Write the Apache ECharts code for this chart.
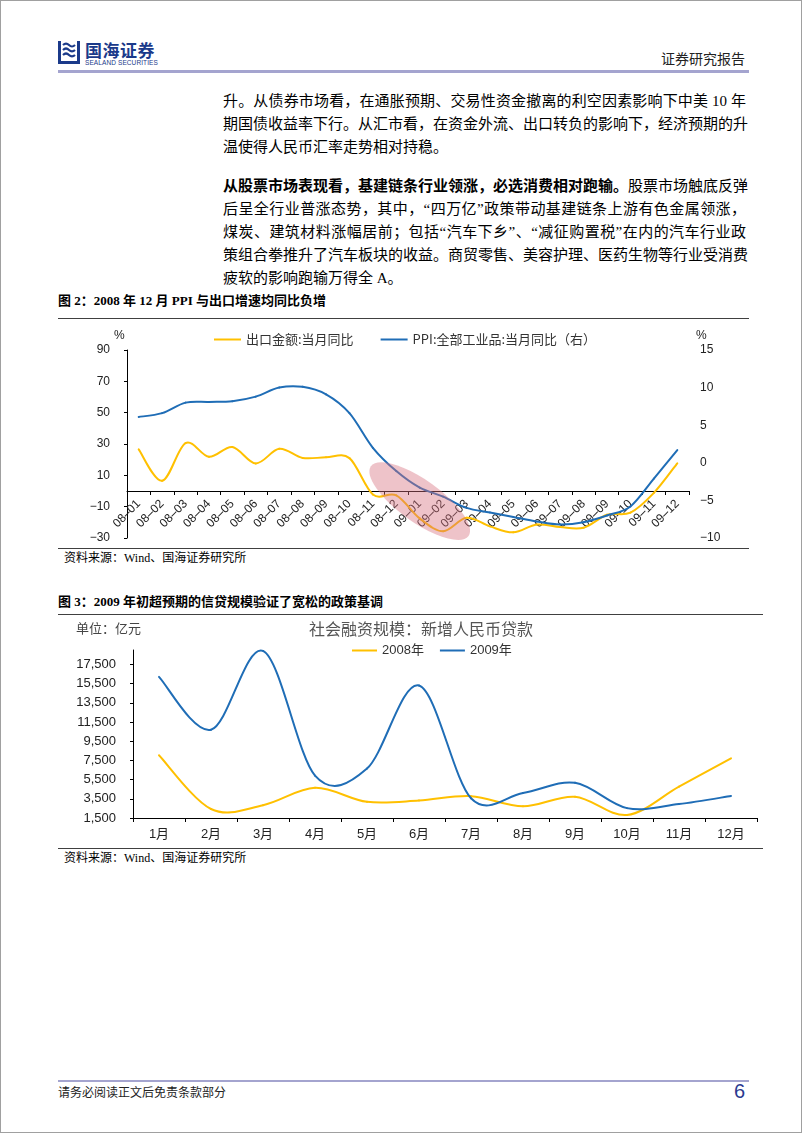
<!DOCTYPE html>
<html>
<head>
<meta charset="utf-8">
<script src="https://cdn.jsdelivr.net/npm/echarts@6/dist/echarts.min.js"></script>
<style>
  html, body { margin:0; padding:0; background:#fff; }
  #page { position:relative; width:802px; height:1133px; box-sizing:border-box; border:1px solid #a0a0a0; overflow:hidden; background:#fff;
          font-family:'Liberation Serif','Noto Sans CJK SC',serif; color:#000; }
  .abs { position:absolute; }
  .hline { position:absolute; height:0; border-top:1px solid #404040; }
  .line { position:absolute; left:222px; width:523px; height:23px; line-height:23px; font-size:15px; white-space:nowrap; }
  .just { text-align:justify; text-align-last:justify; }
  .ttl { position:absolute; left:57px; font-size:13px; font-weight:bold; line-height:16px; white-space:nowrap; }
  .src { position:absolute; left:63px; font-size:12px; line-height:14px; color:#000; white-space:nowrap; }
</style>
</head>
<body>
<div id="page">
  <!-- header -->
  <svg class="abs" style="left:57px;top:40px" width="22" height="23" viewBox="0 0 22 23">
    <rect x="0" y="0" width="3" height="23" fill="#1B3A8A"/>
    <rect x="19" y="0" width="3" height="23" fill="#1B3A8A"/>
    <rect x="0" y="20" width="22" height="3" fill="#1B3A8A"/>
    <path d="M5 4 Q8 1 11 4 T17 4" stroke="#1B3A8A" stroke-width="2.2" fill="none"/>
    <path d="M5 9 Q8 6 11 9 T17 9" stroke="#1B3A8A" stroke-width="2.2" fill="none"/>
    <path d="M5 14 Q8 11 11 14 T17 14" stroke="#1B3A8A" stroke-width="2.2" fill="none"/>
  </svg>
  <div class="abs" style="left:84px;top:40px;font-family:'Noto Sans CJK SC';font-weight:bold;font-size:17px;line-height:18px;color:#1B3A8A;letter-spacing:0.5px;">国海证券</div>
  <div class="abs" style="left:84px;top:58px;font-family:'Liberation Sans';font-size:6.5px;line-height:7px;color:#1B3A8A;letter-spacing:0.1px;">SEALAND SECURITIES</div>
  <div class="abs" style="right:56px;top:49px;font-family:'Noto Sans CJK SC';font-size:14px;line-height:16px;color:#222;">证券研究报告</div>
  <div class="abs" style="left:57px;top:69px;width:691px;height:3px;background:#A4A4CF;"></div>

  <!-- body text -->
  <div class="line just" style="top:89px">升。从债券市场看，在通胀预期、交易性资金撤离的利空因素影响下中美 10 年</div>
  <div class="line just" style="top:112px">期国债收益率下行。从汇市看，在资金外流、出口转负的影响下，经济预期的升</div>
  <div class="line" style="top:135px">温使得人民币汇率走势相对持稳。</div>
  <div class="line just" style="top:174px"><b>从股票市场表现看，基建链条行业领涨，必选消费相对跑输。</b>股票市场触底反弹</div>
  <div class="line just" style="top:197px">后呈全行业普涨态势，其中，“四万亿”政策带动基建链条上游有色金属领涨，</div>
  <div class="line just" style="top:220px">煤炭、建筑材料涨幅居前；包括“汽车下乡”、“减征购置税”在内的汽车行业政</div>
  <div class="line just" style="top:243px">策组合拳推升了汽车板块的收益。商贸零售、美容护理、医药生物等行业受消费</div>
  <div class="line" style="top:266px">疲软的影响跑输万得全 A。</div>

  <!-- figure 2 -->
  <div class="ttl" style="top:292px">图 2：2008 年 12 月 PPI 与出口增速均同比负增</div>
  <div class="hline" style="left:57px;top:317px;width:691px;"></div>
  <div id="c1" class="abs" style="left:0;top:320px;width:802px;height:226px;"></div>
  <div class="hline" style="left:57px;top:547px;width:691px;"></div>
  <div class="src" style="top:550px">资料来源：Wind、国海证券研究所</div>

  <!-- figure 3 -->
  <div class="ttl" style="top:593px">图 3：2009 年初超预期的信贷规模验证了宽松的政策基调</div>
  <div class="hline" style="left:57px;top:613px;width:705px;"></div>
  <div id="c2" class="abs" style="left:0;top:615px;width:802px;height:230px;"></div>
  <div class="hline" style="left:57px;top:847px;width:705px;"></div>
  <div class="src" style="top:850px">资料来源：Wind、国海证券研究所</div>

  <!-- footer -->
  <div class="abs" style="left:57px;top:1079px;width:691px;height:2px;background:#A4A4CF;"></div>
  <div class="abs" style="left:57px;top:1084px;font-family:'Noto Sans CJK SC';font-size:12px;line-height:14px;color:#222;">请务必阅读正文后免责条款部分</div>
  <div class="abs" style="right:56px;top:1079px;font-family:'Liberation Sans';font-size:20px;line-height:22px;color:#2B3A8F;">6</div>
</div>

<script>
// ---------- Figure 2 data ----------
const months1 = ['08-01','08-02','08-03','08-04','08-05','08-06','08-07','08-08','08-09','08-10','08-11','08-12',
                 '09-01','09-02','09-03','09-04','09-05','09-06','09-07','09-08','09-09','09-10','09-11','09-12'];
const exportYoY = [26.6, 6.5, 30.6, 21.8, 28.1, 17.6, 26.9, 21.1, 21.5, 21.0, -2.2, -2.8,
                   -17.5, -25.7, -17.1, -22.6, -26.4, -21.4, -23.0, -23.4, -15.2, -13.8, -1.2, 17.7];
const ppiYoY = [6.1, 6.6, 8.0, 8.1, 8.2, 8.8, 10.0, 10.1, 9.1, 6.6, 2.0, -1.1,
                -3.3, -4.5, -6.0, -6.6, -7.2, -7.8, -8.2, -7.9, -7.0, -5.8, -2.1, 1.7];
const leftTicks1 = [-30, -10, 10, 30, 50, 70, 90];
const rightTicks1 = [-10, -5, 0, 5, 10, 15];
const seriesNames1 = ['出口金额:当月同比', 'PPI:全部工业品:当月同比（右）'];

// ---------- Figure 3 data ----------
const months2 = ['1月','2月','3月','4月','5月','6月','7月','8月','9月','10月','11月','12月'];
const loans2008 = [8030, 2440, 2834, 4643, 3185, 3320, 3776, 2718, 3702, 1811, 4769, 7718];
const loans2009 = [16200, 10700, 18900, 5918, 6645, 15304, 3559, 4104, 5167, 2530, 2948, 3798];
const yTicks2 = [1500, 3500, 5500, 7500, 9500, 11500, 13500, 15500, 17500];
const yMax2 = 19000;
const seriesNames2 = ['2008年', '2009年'];

const YELLOW = '#FFC000', BLUE = '#1F6DB6';
const NUM_FONT = "'Liberation Sans','Noto Sans CJK SC',sans-serif";
const CJK_FONT = "'Noto Sans CJK SC','Liberation Sans',sans-serif";

// Spreadsheet-style smoothed line (Catmull-Rom through every data point),
// drawn with a custom series so every point goes through the axes' own scales.
function splineSeries(name, values, color, yAxisIndex) {
  const n = values.length;
  return {
    name: name, type: 'custom', yAxisIndex: yAxisIndex || 0,
    coordinateSystem: 'cartesian2d',
    data: values.map((v, i) => [i, v]),
    encode: {x: 0, y: 1},
    itemStyle: {color: color},
    silent: true,
    renderItem: function (params, api) {
      const i = params.dataIndex;
      if (i >= n - 1) return null;
      const P = k => api.coord([Math.max(0, Math.min(n - 1, k)), values[Math.max(0, Math.min(n - 1, k))]]);
      const p0 = P(i - 1), p1 = P(i), p2 = P(i + 1), p3 = P(i + 2);
      const t = 1 / 6;
      return {
        type: 'bezierCurve',
        shape: {
          x1: p1[0], y1: p1[1], x2: p2[0], y2: p2[1],
          cpx1: p1[0] + (p2[0] - p0[0]) * t, cpy1: p1[1] + (p2[1] - p0[1]) * t,
          cpx2: p2[0] - (p3[0] - p1[0]) * t, cpy2: p2[1] - (p3[1] - p1[1]) * t
        },
        style: {stroke: color, lineWidth: 2, fill: null, lineCap: 'round'}
      };
    }
  };
}

// ---------- Chart 1 ----------
const c1 = echarts.init(document.getElementById('c1'), null, {renderer:'canvas'});
const grid1 = {left: 126, right: 114, top: 29, bottom: 9};
function buildChart1(labelMargin) {
  return {
    animation: false,
    legend: {
      left: 208, top: 7, icon: 'rect', itemWidth: 27, itemHeight: 2, itemGap: 27,
      textStyle: {fontSize: 13, color: '#333', fontFamily: CJK_FONT},
      data: seriesNames1
    },
    grid: Object.assign({outerBoundsMode: 'none', containLabel: false}, grid1),
    xAxis: {
      type: 'category', data: months1, boundaryGap: true,
      axisLine: {onZero: true, onZeroAxisIndex: 0, lineStyle: {color: '#000', width: 1}},
      axisTick: {show: true, length: 4, lineStyle: {color: '#000'}},
      axisLabel: {rotate: 45, interval: 0, fontSize: 12, color: '#222', margin: labelMargin, fontFamily: NUM_FONT,
                  formatter: s => s.replace('-', '\u2013')},
      splitLine: {show: false}
    },
    yAxis: [{
      type: 'value', position: 'left', min: leftTicks1[0], max: leftTicks1[leftTicks1.length-1],
      interval: leftTicks1[1] - leftTicks1[0],
      axisLine: {show: true, onZero: false, lineStyle: {color: '#000'}},
      axisTick: {show: true, length: 3, lineStyle: {color: '#000'}},
      axisLabel: {fontSize: 12, color: '#222', margin: 17, fontFamily: NUM_FONT,
                  formatter: v => String(v).replace('-', '\u2212')},
      splitLine: {show: false}
    }, {
      type: 'value', position: 'right', min: rightTicks1[0], max: rightTicks1[rightTicks1.length-1],
      interval: rightTicks1[1] - rightTicks1[0],
      axisLine: {show: false, onZero: false}, axisTick: {show: false},
      axisLabel: {fontSize: 12, color: '#222', margin: 11, fontFamily: NUM_FONT,
                  formatter: v => String(v).replace('-', '\u2212')},
      splitLine: {show: false}
    }],
    series: [
      splineSeries(seriesNames1[0], exportYoY, YELLOW, 0),
      splineSeries(seriesNames1[1], ppiYoY, BLUE, 1)
    ]
  };
}
c1.setOption(buildChart1(7));
// Category labels sit just under the zero line: offset them from the grid edge
// by the pixel distance between the zero line and the bottom of the value axis.
const zeroPx = c1.convertToPixel({yAxisIndex: 0}, 0);
const bottomPx = c1.convertToPixel({yAxisIndex: 0}, leftTicks1[0]);
c1.setOption({xAxis: {axisLabel: {margin: 11 - (bottomPx - zeroPx)}}});

// axis unit labels and the highlight ellipse, placed through the chart's own scales
const ec = c1.convertToPixel({xAxisIndex: 0, yAxisIndex: 0}, [12, -6.5]);
const topPx = c1.convertToPixel({yAxisIndex: 0}, leftTicks1[leftTicks1.length-1]);
c1.setOption({
  graphic: [
    {type: 'text', id: 'pl', x: 113, y: topPx - 20, style: {text: '%', font: "12px 'Liberation Sans'", fill: '#222'}},
    {type: 'text', id: 'pr', x: 695, y: topPx - 20, style: {text: '%', font: "12px 'Liberation Sans'", fill: '#222'}},
    {
      type: 'ellipse', id: 'hl', x: ec[0], y: ec[1], rotation: -0.62, z: 10, silent: true,
      shape: {cx: 0, cy: 0, rx: 60, ry: 21},
      style: {fill: 'rgba(214,112,126,0.42)'}
    }
  ]
});

// ---------- Chart 2 ----------
const c2 = echarts.init(document.getElementById('c2'), null, {renderer:'canvas'});
c2.setOption({
  animation: false,
  legend: {
    left: 346, top: 23, icon: 'rect', itemWidth: 25, itemHeight: 2, itemGap: 16,
    textStyle: {fontSize: 13, color: '#333', fontFamily: NUM_FONT},
    data: seriesNames2
  },
  graphic: [
    {type: 'text', left: 75, top: 6, style: {text: '单位：亿元', font: "13px 'Noto Sans CJK SC'", fill: '#444'}},
    {type: 'text', x: 420, y: 5, style: {text: '社会融资规模：新增人民币贷款', font: "16px 'Noto Sans CJK SC'", fill: '#555', textAlign: 'center'}}
  ],
  grid: {left: 132, right: 46, top: 34, bottom: 28, outerBoundsMode: 'none', containLabel: false},
  xAxis: {
    type: 'category', data: months2, boundaryGap: true,
    axisLine: {lineStyle: {color: '#000'}},
    axisTick: {show: true, length: 4, lineStyle: {color: '#000'}},
    axisLabel: {interval: 0, fontSize: 13, color: '#222', margin: 10, fontFamily: NUM_FONT},
    splitLine: {show: false}
  },
  yAxis: {
    type: 'value', min: yTicks2[0], max: yMax2, interval: yTicks2[1] - yTicks2[0],
    axisLine: {show: true, lineStyle: {color: '#000'}},
    axisTick: {show: true, length: 3, lineStyle: {color: '#000'}},
    axisLabel: {fontSize: 13, color: '#222', margin: 17, fontFamily: NUM_FONT, showMaxLabel: false,
                formatter: v => yTicks2.indexOf(v) >= 0 ? v.toLocaleString('en-US') : ''},
    splitLine: {show: false}
  },
  series: [
    splineSeries(seriesNames2[0], loans2008, YELLOW, 0),
    splineSeries(seriesNames2[1], loans2009, BLUE, 0)
  ]
});
</script>
</body>
</html>
